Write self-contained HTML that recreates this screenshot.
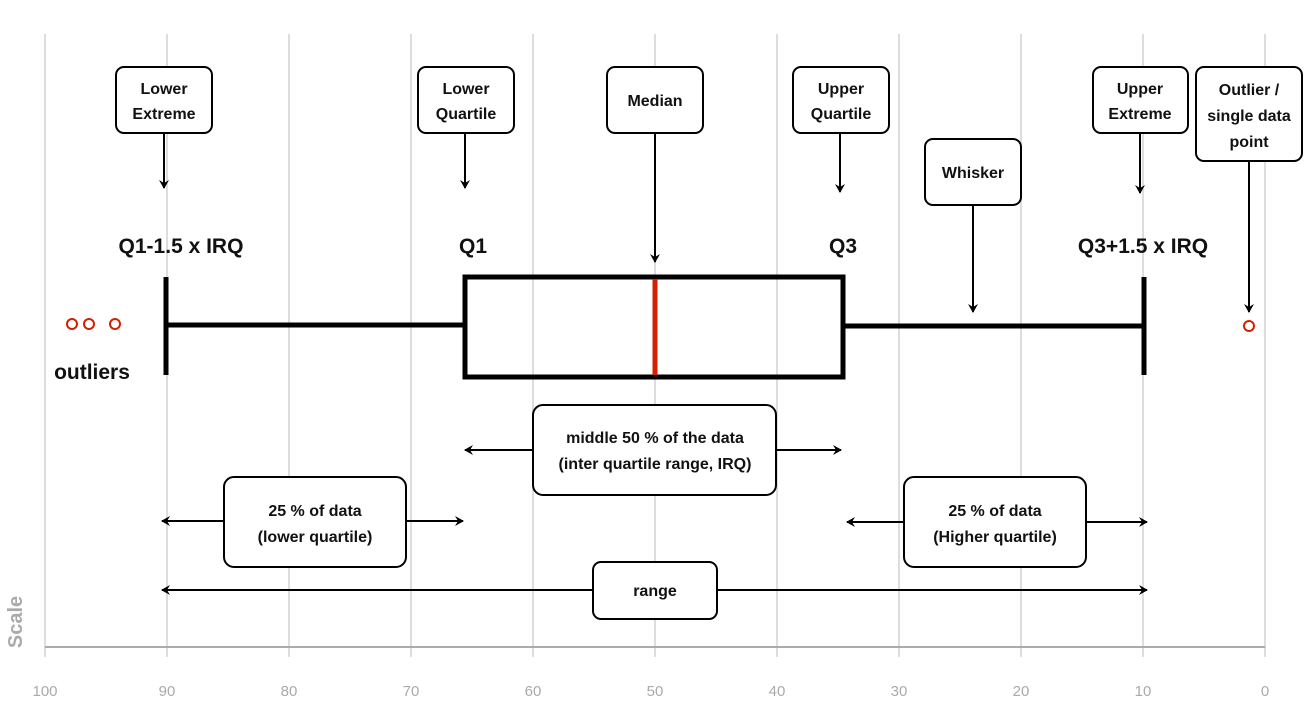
<!DOCTYPE html>
<html><head><meta charset="utf-8"><style>
html,body{margin:0;padding:0;background:#fff;}
svg{display:block;font-family:"Liberation Sans",sans-serif;}
.b{fill:#fff;stroke:#000;stroke-width:2;}
.t{font-size:16px;font-weight:bold;text-anchor:middle;fill:#111;}
.a{stroke:#000;stroke-width:2;fill:none;}
</style></head><body>
<svg width="1307" height="712" viewBox="0 0 1307 712">
<defs>
<marker id="m" markerWidth="10" markerHeight="10" refX="8" refY="5" orient="auto" markerUnits="userSpaceOnUse">
<path d="M0,0 L9,5 L0,10 L3,5 Z" fill="#000"/></marker>
</defs>
<g stroke="#ddd" stroke-width="2">
<line x1="45" y1="34" x2="45" y2="657"/><line x1="167" y1="34" x2="167" y2="657"/>
<line x1="289" y1="34" x2="289" y2="657"/><line x1="411" y1="34" x2="411" y2="657"/>
<line x1="533" y1="34" x2="533" y2="657"/><line x1="655" y1="34" x2="655" y2="657"/>
<line x1="777" y1="34" x2="777" y2="657"/><line x1="899" y1="34" x2="899" y2="657"/>
<line x1="1021" y1="34" x2="1021" y2="657"/><line x1="1143" y1="34" x2="1143" y2="657"/>
<line x1="1265" y1="34" x2="1265" y2="657"/>
</g>
<line x1="45" y1="647" x2="1265" y2="647" stroke="#aaa" stroke-width="2"/>
<g fill="#aaa" font-size="15" text-anchor="middle">
<text x="45" y="696">100</text><text x="167" y="696">90</text><text x="289" y="696">80</text>
<text x="411" y="696">70</text><text x="533" y="696">60</text><text x="655" y="696">50</text>
<text x="777" y="696">40</text><text x="899" y="696">30</text><text x="1021" y="696">20</text>
<text x="1143" y="696">10</text><text x="1265" y="696">0</text>
</g>
<text x="22" y="622" transform="rotate(-90 22 622)" fill="#aaa" font-size="20" font-weight="bold" text-anchor="middle">Scale</text>

<!-- boxplot -->
<g stroke="#000" stroke-width="5" fill="none">
<line x1="166" y1="277" x2="166" y2="375"/>
<line x1="166" y1="325" x2="465" y2="325"/>
<rect x="465" y="277" width="378" height="100"/>
<line x1="843" y1="326" x2="1144" y2="326"/>
<line x1="1144" y1="277" x2="1144" y2="375"/>
</g>
<line x1="655" y1="279" x2="655" y2="375" stroke="#d42000" stroke-width="5"/>
<g fill="none" stroke="#d42000" stroke-width="2">
<circle cx="72" cy="324" r="5"/><circle cx="89" cy="324" r="5"/><circle cx="115" cy="324" r="5"/>
<circle cx="1249" cy="326" r="5"/></g>

<g font-size="21" font-weight="bold" fill="#111">
<text x="181" y="253" text-anchor="middle">Q1-1.5 x IRQ</text>
<text x="473" y="253" text-anchor="middle">Q1</text>
<text x="843" y="253" text-anchor="middle">Q3</text>
<text x="1143" y="253" text-anchor="middle">Q3+1.5 x IRQ</text>
<text x="92" y="379" text-anchor="middle">outliers</text>
</g>

<!-- vertical arrows -->
<g class="a" marker-end="url(#m)">
<line x1="164" y1="133" x2="164" y2="188"/>
<line x1="465" y1="133" x2="465" y2="188"/>
<line x1="655" y1="133" x2="655" y2="262"/>
<line x1="840" y1="133" x2="840" y2="192"/>
<line x1="973" y1="205" x2="973" y2="312"/>
<line x1="1140" y1="133" x2="1140" y2="193"/>
<line x1="1249" y1="161" x2="1249" y2="312"/>
<line x1="533" y1="450" x2="465" y2="450"/>
<line x1="776" y1="450" x2="841" y2="450"/>
<line x1="224" y1="521" x2="162" y2="521"/>
<line x1="406" y1="521" x2="463" y2="521"/>
<line x1="904" y1="522" x2="847" y2="522"/>
<line x1="1086" y1="522" x2="1147" y2="522"/>
<line x1="593" y1="590" x2="162" y2="590"/>
<line x1="717" y1="590" x2="1147" y2="590"/>
</g>

<!-- label boxes -->
<rect class="b" x="116" y="67" width="96" height="66" rx="8"/>
<text class="t" x="164" y="94">Lower</text><text class="t" x="164" y="119">Extreme</text>
<rect class="b" x="418" y="67" width="96" height="66" rx="8"/>
<text class="t" x="466" y="94">Lower</text><text class="t" x="466" y="119">Quartile</text>
<rect class="b" x="607" y="67" width="96" height="66" rx="8"/>
<text class="t" x="655" y="106">Median</text>
<rect class="b" x="793" y="67" width="96" height="66" rx="8"/>
<text class="t" x="841" y="94">Upper</text><text class="t" x="841" y="119">Quartile</text>
<rect class="b" x="1093" y="67" width="95" height="66" rx="8"/>
<text class="t" x="1140" y="94">Upper</text><text class="t" x="1140" y="119">Extreme</text>
<rect class="b" x="1196" y="67" width="106" height="94" rx="8"/>
<text class="t" x="1249" y="95">Outlier /</text><text class="t" x="1249" y="121">single data</text><text class="t" x="1249" y="147">point</text>
<rect class="b" x="925" y="139" width="96" height="66" rx="8"/>
<text class="t" x="973" y="178">Whisker</text>
<rect class="b" x="533" y="405" width="243" height="90" rx="10"/>
<text class="t" x="655" y="443">middle 50 % of the data</text><text class="t" x="655" y="469">(inter quartile range, IRQ)</text>
<rect class="b" x="224" y="477" width="182" height="90" rx="10"/>
<text class="t" x="315" y="516">25 % of data</text><text class="t" x="315" y="542">(lower quartile)</text>
<rect class="b" x="904" y="477" width="182" height="90" rx="10"/>
<text class="t" x="995" y="516">25 % of data</text><text class="t" x="995" y="542">(Higher quartile)</text>
<rect class="b" x="593" y="562" width="124" height="57" rx="8"/>
<text class="t" x="655" y="596">range</text>
</svg>
</body></html>
